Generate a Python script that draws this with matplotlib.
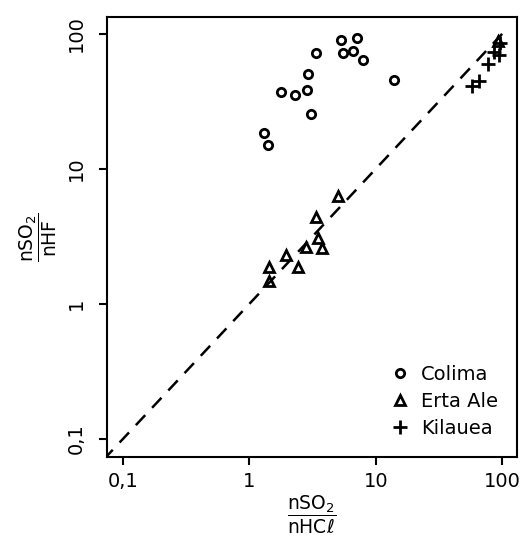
import matplotlib
matplotlib.use("Agg")
import matplotlib.pyplot as plt
from matplotlib.ticker import FixedLocator, NullLocator

plt.rcParams["font.family"] = ["DejaVu Sans"]
plt.rcParams["mathtext.fontset"] = "dejavusans"

# Colima
colima_x = [5.29, 7.08, 3.36, 5.49, 6.58, 7.89, 2.90, 13.9, 1.77, 2.29, 2.85, 3.06, 1.30, 1.40]
colima_y = [89.6, 92.7, 71.8, 71.8, 74.3, 63.7, 50.1, 45.2, 36.9, 35.0, 38.1, 25.3, 18.3, 14.9]

# Erta Ale
erta_x = [5.01, 3.36, 3.48, 2.80, 3.74, 1.94, 1.43, 2.42, 1.43, 92.1]
erta_y = [6.34, 4.43, 3.09, 2.65, 2.60, 2.31, 1.88, 1.88, 1.48, 88.1]

# Kilauea
kil_x = [95.5, 86.0, 93.8, 76.7, 65.2, 57.4]
kil_y = [85.2, 74.0, 69.4, 59.4, 44.5, 40.8]

ticks = [0.1, 1, 10, 100]
tick_labels = ["0,1", "1", "10", "100"]

fig = plt.figure(figsize=(5.29, 5.44), dpi=100)
ax = fig.add_axes([0.2023, 0.160, 0.775, 0.809])

ax.set_xscale("log")
ax.set_yscale("log")
ax.set_xlim(0.0748, 131)
ax.set_ylim(0.0735, 133.6)

ax.plot([0.07, 100], [0.07, 100], color="black", lw=1.8, ls=(0, (5.5, 4)))

ax.plot(colima_x, colima_y, ls="none", marker="o", ms=6, mfc="none",
        mec="black", mew=2, label="Colima")
ax.plot(erta_x, erta_y, ls="none", marker="^", ms=7, mfc="none",
        mec="black", mew=2, label="Erta Ale")
ax.plot(kil_x, kil_y, ls="none", marker="+", ms=9.5, mec="black",
        mew=2, label="Kilauea")

ax.xaxis.set_major_locator(FixedLocator(ticks))
ax.yaxis.set_major_locator(FixedLocator(ticks))
ax.xaxis.set_minor_locator(NullLocator())
ax.yaxis.set_minor_locator(NullLocator())
ax.set_xticklabels(tick_labels, fontsize=14)
ax.set_yticklabels(tick_labels, fontsize=14, rotation=90, va="center")
ax.tick_params(direction="out", length=6, width=1.5)
ax.tick_params(axis="x", pad=5)
ax.tick_params(axis="y", pad=9)

for sp in ax.spines.values():
    sp.set_linewidth(1.5)

ax.set_xlabel(r"$\dfrac{\mathrm{nSO_2}}{\mathrm{nHC}\ell}$", fontsize=13.5, labelpad=2)
ax.set_ylabel(r"$\dfrac{\mathrm{nSO_2}}{\mathrm{nHF}}$", fontsize=13.5, labelpad=6)

ax.legend(loc="lower right", frameon=False, fontsize=14, handletextpad=0.5,
          handlelength=1.2, borderaxespad=0, labelspacing=0.42,
          bbox_to_anchor=(0.973, 0.025))

fig.savefig("out.png", dpi=100)
